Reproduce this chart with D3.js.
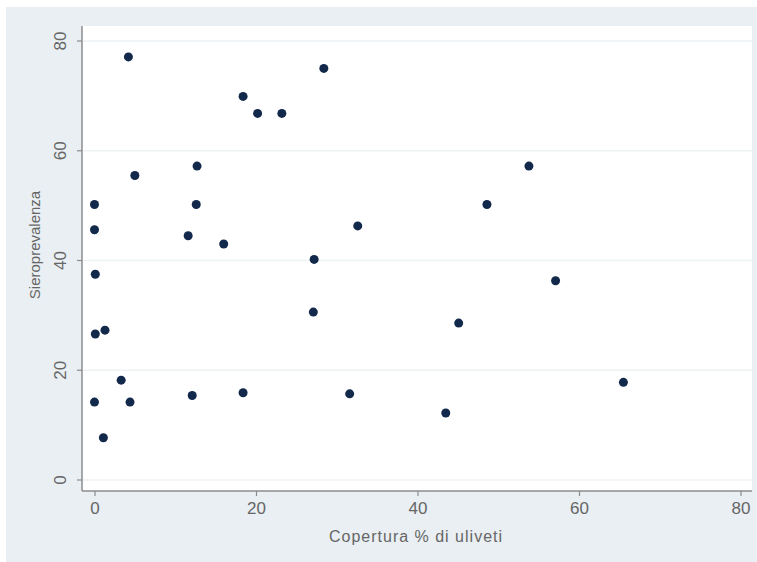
<!DOCTYPE html>
<html>
<head>
<meta charset="utf-8">
<script src="https://cdn.jsdelivr.net/npm/d3@7"></script>
<style>
  body { margin: 0; background: #fff; }
  text { font-family: "Liberation Sans", Arial, sans-serif; }
</style>
</head>
<body>
<script>
var width = 757,
    height = 562;

// data
var copertura = [4.2, 28.4, 18.4, 20.2, 23.2, 12.7, 53.8, 5.0, 0, 12.6, 48.6, 0, 11.6, 32.6, 16.0, 27.2,
                 0.1, 57.1, 27.1, 45.1, 1.3, 0.1, 3.3, 65.5, 0, 4.4, 12.1, 18.4, 31.6, 43.5, 1.1];
var sieroprev = [77.1, 75.0, 69.9, 66.8, 66.8, 57.2, 57.2, 55.5, 50.2, 50.2, 50.2, 45.6, 44.5, 46.3, 43.0, 40.2,
                 37.5, 36.3, 30.6, 28.6, 27.3, 26.6, 18.2, 17.8, 14.2, 14.2, 15.4, 15.9, 15.7, 12.2, 7.7];
var xTicks = [0, 20, 40, 60, 80],
    yTicks = [0, 20, 40, 60, 80];

var points = copertura.map(function(v, i) { return {x: v, y: sieroprev[i]}; });

var svg = d3.select("body")
    .append("svg")
    .attr("width", width)
    .attr("height", height);

// outer background
svg.append("rect")
    .attr("x", 6).attr("y", 7)
    .attr("width", 751).attr("height", 555)
    .style("fill", "#e9eff2");

// plot region
var plot = {left: 82, top: 26, right: 752, bottom: 491};
svg.append("rect")
    .attr("x", plot.left).attr("y", plot.top)
    .attr("width", plot.right - plot.left).attr("height", plot.bottom - plot.top)
    .style("fill", "#ffffff");

var x = d3.scaleLinear().domain([0, 80]).range([94.5, 740.5]);
var y = d3.scaleLinear().domain([0, 80]).range([480, 41]);

// horizontal grid
svg.selectAll(".grid")
    .data(yTicks)
    .enter().append("line")
        .attr("class", "grid")
        .attr("x1", plot.left).attr("x2", plot.right)
        .attr("y1", function(d) { return y(d); })
        .attr("y2", function(d) { return y(d); })
        .style("stroke", "#edf2f4")
        .style("stroke-width", 1.5);

// y axis
var yAxis = svg.append("g")
    .attr("transform", "translate(" + plot.left + ",0)")
    .call(d3.axisLeft(y).tickValues(yTicks).tickSize(5));
yAxis.select(".domain").attr("d", "M0," + plot.top + "V" + plot.bottom);
yAxis.selectAll(".tick").attr("transform", null);
yAxis.selectAll(".tick line")
    .attr("y1", function(d) { return y(d); }).attr("y2", function(d) { return y(d); });
yAxis.selectAll(".tick text")
    .attr("x", null).attr("dy", null)
    .attr("transform", function(d) { return "translate(-16," + y(d) + ") rotate(-90)"; })
    .style("text-anchor", "middle");

// x axis
var xAxis = svg.append("g")
    .attr("transform", "translate(0," + plot.bottom + ")")
    .call(d3.axisBottom(x).tickValues(xTicks).tickSize(5).tickPadding(6));
xAxis.select(".domain").attr("d", "M" + plot.left + ",0H" + plot.right);

svg.selectAll(".domain").style("stroke", "#8c8c8c").style("stroke-width", 1.5);
svg.selectAll(".tick line").style("stroke", "#8c8c8c").style("stroke-width", 1.2);
svg.selectAll(".tick text").style("fill", "#666").style("font-size", "17px")
    .style("font-family", "'Liberation Sans', Arial, sans-serif");

// axis titles
svg.append("text")
    .attr("transform", "translate(40,245) rotate(-90)")
    .style("text-anchor", "middle")
    .style("fill", "#666")
    .style("font-size", "15px")
    .text("Sieroprevalenza");

svg.append("text")
    .attr("x", 416).attr("y", 542)
    .style("text-anchor", "middle")
    .style("fill", "#666")
    .style("font-size", "16px")
    .style("letter-spacing", "1px")
    .text("Copertura % di uliveti");

// points
svg.selectAll(".pt")
    .data(points)
    .enter().append("circle")
        .attr("class", "pt")
        .attr("r", 4.5)
        .attr("cx", function(d) { return x(d.x); })
        .attr("cy", function(d) { return y(d.y); })
        .style("fill", "#13294b");
</script>
</body>
</html>
